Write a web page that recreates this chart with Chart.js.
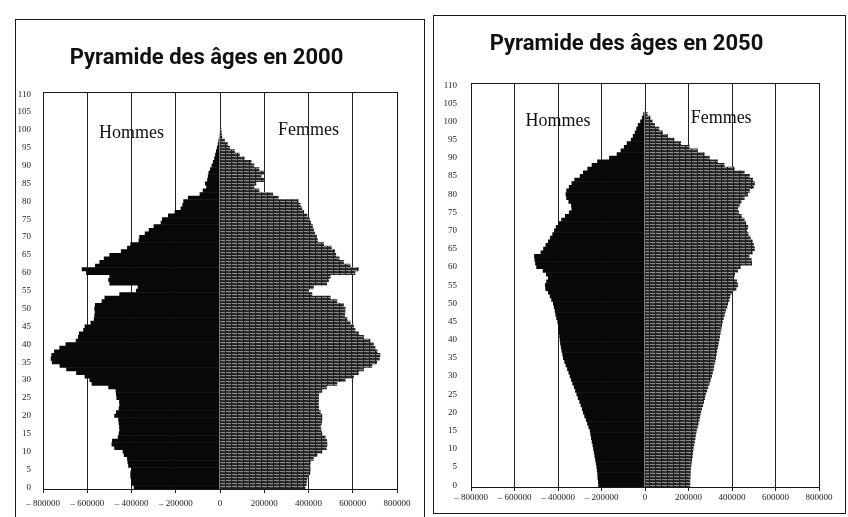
<!DOCTYPE html>
<html>
<head>
<meta charset="utf-8">
<script src="https://cdn.jsdelivr.net/npm/chart.js@4/dist/chart.umd.min.js"></script>
<style>
  html, body { margin: 0; padding: 0; background: #fff; }
  body { width: 848px; height: 517px; position: relative; overflow: hidden; }
  .panel { position: absolute; border: 1px solid #1a1a1a; background: #fff; }
  #panel2000 { left: 15px; top: 19px; width: 408px; height: 510px; }
  #panel2050 { left: 433px; top: 15px; width: 411px; height: 497px; }
  canvas { display: block; }
</style>
</head>
<body>
<div class="panel" id="panel2000"><canvas id="chart2000" width="407" height="497"></canvas></div>
<div class="panel" id="panel2050"><canvas id="chart2050" width="411" height="497"></canvas></div>

<script>
// ages on the vertical axis (0 to 110, one bar per year)
const ages = Array.from({ length: 111 }, (_, i) => String(i));

// x axis range (population per single year of age)
const xMin = -800000;
const xMax = 800000;
const xStep = 200000;

// population by single year of age, in thousands (age 0 first)
const hommes2000 = [
  390, 400, 402, 405, 405, 400, 415, 418, 420, 435,
  440, 478, 490, 488, 462, 458, 455, 456, 458, 460,
  478, 470, 458, 455, 456, 468, 470, 472, 505, 580,
  590, 612, 650, 695, 725, 760, 765, 762, 750, 726,
  698, 652, 642, 638, 618, 612, 585, 570, 568, 566,
  568, 565, 535, 522, 455, 380, 372, 500, 505, 500,
  605, 625, 565, 545, 525, 500, 448, 420, 405, 368,
  365, 340, 322, 300, 268, 262, 235, 205, 178, 170,
  166, 145, 92, 78, 62, 68, 58, 55, 52, 45,
  38, 32, 26, 22, 18, 14, 10, 7, 4, 3,
  2
];
const femmes2000 = [
  386, 392, 394, 400, 408, 409, 408, 410, 424, 440,
  462, 482, 485, 484, 477, 462, 458, 456, 460, 462,
  462, 455, 448, 446, 447, 447, 448, 462, 484, 530,
  567, 605, 627, 650, 688, 710, 722, 725, 712, 702,
  695, 680, 650, 628, 612, 605, 590, 576, 565, 566,
  567, 560, 530, 500, 417, 402, 424, 484, 492, 500,
  612, 627, 590, 560, 540, 525, 520, 505, 470, 442,
  438, 430, 425, 420, 412, 405, 395, 380, 372, 364,
  355, 265, 240, 178, 155, 164, 200, 187, 200, 178,
  155, 142, 111, 89, 67, 45, 35, 22, 10, 8,
  6, 3
];
const hommes2050 = [
  215, 216, 218, 219, 221, 223, 226, 229, 232, 235,
  238, 241, 245, 248, 251, 254, 260, 266, 272, 279,
  285, 290, 296, 302, 309, 315, 321, 327, 334, 340,
  346, 352, 358, 365, 371, 377, 380, 384, 387, 390,
  392, 394, 396, 398, 400, 403, 408, 412, 415, 419,
  423, 431, 438, 446, 458, 460, 454, 446, 455, 470,
  500, 505, 508, 510, 480, 468, 457, 446, 437, 426,
  418, 410, 400, 385, 368, 350, 338, 340, 352, 362,
  365, 362, 350, 338, 325, 300, 285, 265, 245, 220,
  165, 130, 112, 97, 84, 65, 56, 47, 40, 33,
  22, 14, 8, 3
];
const femmes2050 = [
  208, 208, 209, 210, 211, 212, 214, 216, 219, 221,
  223, 226, 229, 232, 235, 238, 242, 246, 250, 254,
  258, 262, 267, 271, 276, 280, 286, 291, 297, 302,
  308, 312, 316, 319, 323, 326, 329, 332, 336, 339,
  342, 345, 348, 351, 354, 357, 362, 367, 372, 378,
  382, 388, 392, 400, 420, 428, 423, 410, 414, 428,
  440, 492, 490, 480, 495, 505, 500, 495, 486, 476,
  470, 474, 465, 458, 445, 432, 428, 435, 443, 458,
  474, 482, 500, 505, 497, 482, 458, 412, 366, 335,
  297, 274, 243, 205, 166, 135, 105, 82, 66, 46,
  35, 25, 12, 5
];

// dark striped fill for the women's side
function stripePattern() {
  const c = document.createElement("canvas");
  c.width = 6;
  c.height = 3;
  const g = c.getContext("2d");
  g.fillStyle = "#222";
  g.fillRect(0, 0, 6, 3);
  g.fillStyle = "#8a8a8a";
  g.fillRect(0, 1, 5, 1);
  g.fillStyle = "#3a3a3a";
  g.fillRect(2, 2, 3, 1);
  return g.createPattern(c, "repeat");
}

// frame around the plot area + "Hommes" / "Femmes" labels
const pyramidDecor = {
  id: "pyramidDecor",
  afterDraw(chart, args, opts) {
    const { ctx, chartArea, scales } = chart;
    ctx.save();
    ctx.strokeStyle = "#1a1a1a";
    ctx.lineWidth = 1;
    ctx.strokeRect(
      Math.round(chartArea.left) + 0.5,
      Math.round(chartArea.top) + 0.5,
      Math.round(chartArea.right - chartArea.left),
      Math.round(chartArea.bottom - chartArea.top)
    );
    ctx.fillStyle = "#111";
    ctx.font = "18px 'Liberation Serif', serif";
    ctx.textAlign = "center";
    ctx.textBaseline = "middle";
    opts.labels.forEach((l) => {
      ctx.fillText(l.text, scales.x.getPixelForValue(l.x), scales.y.getPixelForValue(l.age));
    });
    ctx.restore();
  },
};

function formatTick(v) {
  if (v < 0) return "\u2013 " + String(-v);
  return String(v);
}

function makeConfig(cfg) {
  return {
    type: "bar",
    data: {
      labels: ages,
      datasets: [
        {
          label: "Hommes",
          data: cfg.hommes.map((v) => -v * 1000),
          backgroundColor: "#080808",
          borderWidth: 0,
          barPercentage: 1.15,
          categoryPercentage: 1,
        },
        {
          label: "Femmes",
          data: cfg.femmes.map((v) => v * 1000),
          backgroundColor: stripePattern(),
          borderWidth: 0,
          barPercentage: 1.15,
          categoryPercentage: 1,
        },
      ],
    },
    options: {
      indexAxis: "y",
      responsive: false,
      animation: false,
      layout: { padding: { left: 0, right: 26, top: 0, bottom: 0 } },
      plugins: {
        legend: { display: false },
        tooltip: { enabled: false },
        title: {
          display: true,
          text: cfg.title,
          color: "#111",
          font: { family: "Roboto, 'DejaVu Sans', sans-serif", size: 22, weight: "bold" },
          padding: cfg.titlePadding,
        },
        pyramidDecor: { labels: cfg.labels },
      },
      scales: {
        x: {
          type: "linear",
          stacked: true,
          min: xMin,
          max: xMax,
          ticks: {
            stepSize: xStep,
            color: "#222",
            padding: cfg.xTickPadding,
            maxRotation: 0,
            font: { family: "'Liberation Serif', serif", size: 9 },
            callback: formatTick,
          },
          grid: { color: "#222", lineWidth: 1, tickLength: 4 },
          border: { display: true, color: "#1a1a1a" },
          afterFit: (scale) => { scale.height = cfg.xHeight; },
        },
        y: {
          type: "category",
          stacked: true,
          reverse: true,
          ticks: {
            autoSkip: false,
            color: "#222",
            padding: cfg.yTickPadding,
            font: { family: "'Liberation Serif', serif", size: 9 },
            callback: function (value) {
              const age = Number(this.getLabelForValue(value));
              return age % 5 === 0 ? String(age) : null;
            },
          },
          grid: { display: false },
          border: { display: true, color: "#1a1a1a" },
          afterFit: (scale) => { scale.width = cfg.yWidth; },
        },
      },
    },
    plugins: [pyramidDecor],
  };
}

new Chart(document.getElementById("chart2000"), makeConfig({
  title: "Pyramide des âges en 2000",
  hommes: hommes2000,
  femmes: femmes2000,
  titlePadding: { top: 25, bottom: 21 },
  xHeight: 28,
  yWidth: 27,
  xTickPadding: 5,
  yTickPadding: 4,
  labels: [
    { text: "Hommes", x: -400000, age: 99 },
    { text: "Femmes", x: 400000, age: 100 },
  ],
}));

new Chart(document.getElementById("chart2050"), makeConfig({
  title: "Pyramide des âges en 2050",
  hommes: hommes2050,
  femmes: femmes2050,
  titlePadding: { top: 15, bottom: 26 },
  xHeight: 26,
  yWidth: 37,
  xTickPadding: 1,
  yTickPadding: 6,
  labels: [
    { text: "Hommes", x: -400000, age: 100 },
    { text: "Femmes", x: 350000, age: 101 },
  ],
}));
</script>
</body>
</html>
